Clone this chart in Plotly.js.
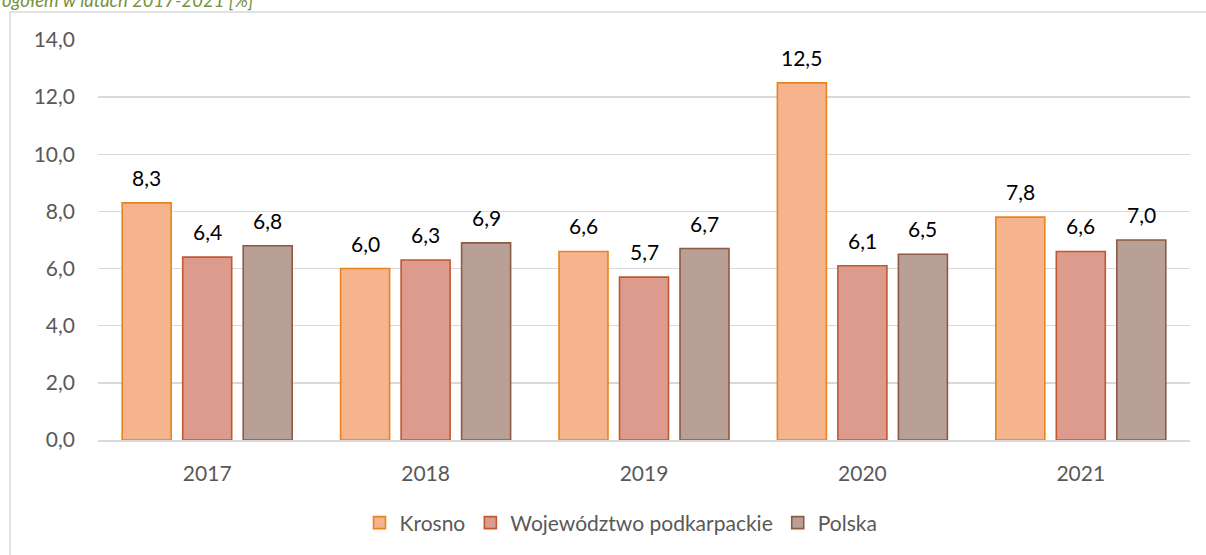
<!DOCTYPE html>
<html>
<head>
<meta charset="utf-8">
<script src="https://cdn.plot.ly/plotly-3.0.1.min.js"></script>
<style>
  html, body { margin: 0; padding: 0; background: #ffffff; }
  #chart { width: 1206px; height: 555px; }
</style>
</head>
<body>
<div id="chart"></div>
<script>
const years = ['2017', '2018', '2019', '2020', '2021'];
const krosno = [8.3, 6.0, 6.6, 12.5, 7.8];
const podkarpackie = [6.4, 6.3, 5.7, 6.1, 6.6];
const polska = [6.8, 6.9, 6.7, 6.5, 7.0];
const seriesNames = ['Krosno', 'Województwo podkarpackie', 'Polska'];
const yTicks = [0, 2, 4, 6, 8, 10, 12, 14];
const titleText = 'ogółem w latach 2017-2021 [%]';

const FONT = 'Lato, "Open Sans", sans-serif';
const fills = ['#F5B48D', '#DC9B8D', '#B9A096'];
const borders = ['#E8841C', '#C2582F', '#8E5A43'];
const seriesData = [krosno, podkarpackie, polska];
const xIdx = years.map((_, i) => i);

const traces = seriesData.map((vals, i) => ({
  type: 'bar',
  name: seriesNames[i],
  x: xIdx,
  y: vals,
  marker: { color: fills[i], line: { color: borders[i], width: 1.6 } },
  hoverinfo: 'skip'
}));

// data labels through annotations in data coordinates
const shifts = [-60.5, 0, 60.5];
const annotations = [];
seriesData.forEach((vals, i) => {
  vals.forEach((v, j) => {
    annotations.push({
      x: xIdx[j], y: v, xref: 'x', yref: 'y',
      xshift: shifts[i], yshift: 11,
      yanchor: 'bottom', xanchor: 'center',
      text: v.toFixed(1).replace('.', ','),
      showarrow: false,
      font: { family: FONT, size: 21, color: '#000000' }
    });
  });
});

const L = 98, R = 16, T = 40, B = 115, W = 1206, H = 555;
const pw = W - L - R, ph = H - T - B;
const px = x => (x - L) / pw;
const py = y => (H - B - y) / ph;

// partially visible title above the frame
annotations.push({
  xref: 'paper', yref: 'paper',
  x: px(0), y: py(13), xanchor: 'left', yanchor: 'bottom',
  text: '<i>' + titleText + '</i>',
  showarrow: false,
  font: { family: FONT, size: 18.5, color: '#76923C' }
});

const shapes = [
  { type: 'line', xref: 'paper', yref: 'paper', x0: px(10), x1: px(1210), y0: py(12), y1: py(12),
    line: { color: '#D9D9D9', width: 1.5 } },
  { type: 'line', xref: 'paper', yref: 'paper', x0: px(10), x1: px(10), y0: py(12), y1: py(560),
    line: { color: '#D9D9D9', width: 1.5 } }
];

const layout = {
  width: W, height: H,
  margin: { l: L, r: R, t: T, b: B },
  paper_bgcolor: '#ffffff',
  plot_bgcolor: '#ffffff',
  barmode: 'group',
  bargap: 0.169,
  bargroupgap: 0.19,
  showlegend: true,
  legend: {
    orientation: 'h',
    x: (621 - L) / pw, xanchor: 'center',
    y: py(523), yanchor: 'middle',
    font: { family: FONT, size: 21, color: '#595959' },
    itemwidth: 30,
    traceorder: 'normal'
  },
  xaxis: {
    type: 'linear',
    range: [-0.5, years.length - 0.5],
    tickvals: xIdx,
    ticktext: years,
    showgrid: false,
    zeroline: false,
    showline: true, linecolor: '#D9D9D9', linewidth: 1.5,
    ticks: '',
    tickfont: { family: FONT, size: 21, color: '#595959' },
    ticklabelstandoff: 14,
    fixedrange: true
  },
  yaxis: {
    range: [0, 14],
    tickvals: yTicks,
    ticktext: yTicks.map(v => v.toFixed(1).replace('.', ',')),
    showgrid: true, gridcolor: '#D9D9D9', gridwidth: 1.3,
    zeroline: false,
    showline: false,
    ticks: '',
    tickfont: { family: FONT, size: 21, color: '#595959' },
    ticklabelstandoff: 22,
    fixedrange: true
  },
  annotations: annotations,
  shapes: shapes
};

Plotly.newPlot('chart', traces, layout, { displayModeBar: false, staticPlot: true });
</script>
</body>
</html>
